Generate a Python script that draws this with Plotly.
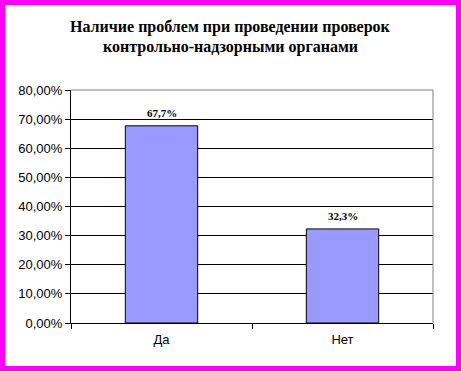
import plotly.graph_objects as go

categories = ["Да", "Нет"]
values = [0.677, 0.323]
title_lines = ["Наличие проблем при проведении проверок", "контрольно-надзорными органами"]

W, H = 461, 371
L, R, T, B = 71, 28, 90, 48
pw, ph = W - L - R, H - T - B

def px_x(p):
    return (p - L) / pw

def px_y(p):
    return (H - B - p) / ph

fig = go.Figure()
fig.add_trace(go.Bar(
    x=categories, y=values,
    marker=dict(color="#9999FF", line=dict(color="black", width=1)),
    width=0.4,
    hoverinfo="skip",
))

for c, v in zip(categories, values):
    fig.add_annotation(
        x=c, y=v, xref="x", yref="y",
        text=f"{v*100:.1f}%".replace(".", ","),
        showarrow=False, yanchor="bottom", yshift=5,
        font=dict(family="Liberation Serif", size=11, color="black", weight="bold"),
    )

for i, line in enumerate(title_lines):
    fig.add_annotation(
        x=px_x(230), y=px_y(27 + 20 * i), xref="paper", yref="paper",
        text=f"<b>{line}</b>", showarrow=False, xanchor="center", yanchor="middle",
        font=dict(family="Liberation Serif", size=16, color="black"),
    )

# plot-area top and right border (gray)
fig.add_shape(type="line", xref="x domain", yref="y domain", x0=0, x1=1, y0=1, y1=1,
              line=dict(color="#808080", width=1), layer="above")
fig.add_shape(type="line", xref="x domain", yref="y domain", x0=1, x1=1, y0=0, y1=1,
              line=dict(color="#808080", width=1), layer="above")
# magenta frame
fig.add_shape(type="rect", xref="paper", yref="paper",
              x0=px_x(0), x1=px_x(W), y0=px_y(H), y1=px_y(0),
              line=dict(color="#FF00FF", width=10), fillcolor="rgba(0,0,0,0)", layer="above")

fig.update_layout(
    width=W, height=H,
    margin=dict(l=L, r=R, t=T, b=B, pad=0),
    paper_bgcolor="white", plot_bgcolor="white",
    separators=", ",
    showlegend=False,
    bargap=0.6,
    font=dict(family="Liberation Sans", size=13, color="black"),
)
fig.update_xaxes(
    showline=True, linecolor="black", linewidth=1,
    ticks="outside", ticklen=5, tickcolor="black", tickson="boundaries",
    showgrid=False, tickfont=dict(size=13), ticklabelstandoff=4,
)
fig.update_yaxes(
    range=[0, 0.8], dtick=0.1, tickformat=".2%",
    showline=True, linecolor="black", linewidth=1,
    ticks="outside", ticklen=5, tickcolor="black",
    showgrid=True, gridcolor="black", gridwidth=1, zeroline=False,
    tickfont=dict(size=13),
)

fig.write_html("out.html", config={"displayModeBar": False},
               post_script="document.body.style.margin='0px';document.body.style.overflow='hidden';")
